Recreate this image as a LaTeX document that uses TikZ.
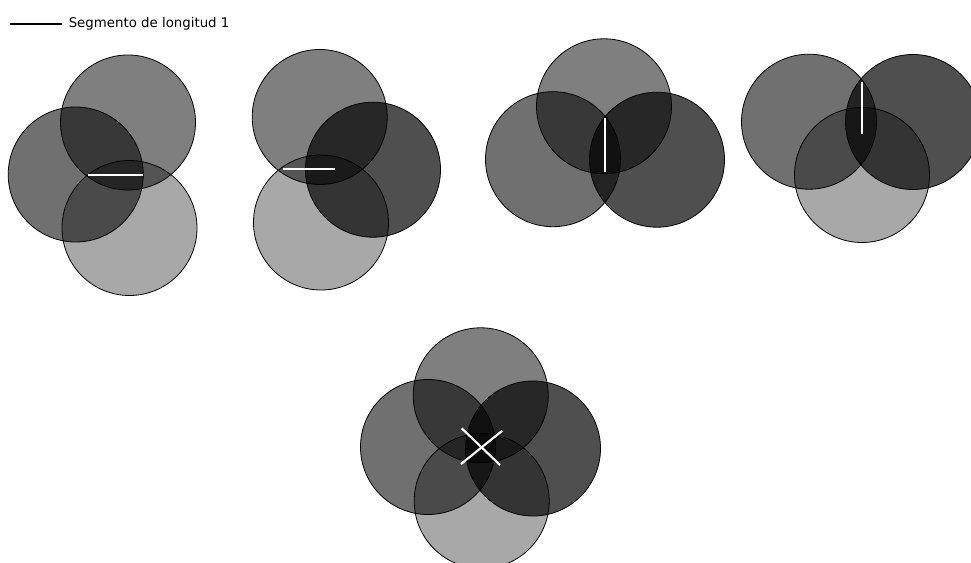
\documentclass[tikz,border=0pt]{standalone}
\usepackage{fontspec}
\setmainfont{DejaVu Sans}
\begin{document}
\begin{tikzpicture}[x=0.75pt,y=-0.75pt,
  circ/.style={circle,draw=black,line width=0.6pt,fill=black,inner sep=0pt,minimum size=101.25pt},
  ctop/.style={circ,fill opacity=0.5},
  cleft/.style={circ,fill opacity=0.56},
  cright/.style={circ,fill opacity=0.69},
  cbot/.style={circ,fill opacity=0.34},
  seg/.style={draw=white,line width=1.6pt},
  legline/.style={draw=black,line width=1.8pt},
  legtext/.style={anchor=base west,inner sep=0pt,font=\fontsize{10pt}{12pt}\selectfont}]
\useasboundingbox (0,0) rectangle (971,563);
\clip (0,0) rectangle (971,563);
% legend
\coordinate (la) at (10,24);
\coordinate (lb) at (62,24);
\draw[legline] (la) -- (lb);
\node[legtext] (leg) at (68.5,28) {Segmento de longitud 1};
% panel 1
\node[ctop] (p1t) at (128,122.5) {};
\node[cleft] (p1l) at (75.7,174.5) {};
\node[cbot] (p1b) at (129.5,228) {};
\coordinate (s1a) at (88,175.3);
\coordinate (s1b) at (142.7,175.3);
\draw[seg] (s1a) -- (s1b);
% panel 2
\node[ctop] (p2t) at (319.7,117) {};
\node[cright] (p2r) at (373,169.7) {};
\node[cbot] (p2b) at (321,222.5) {};
\coordinate (s2a) at (282.7,169.3);
\coordinate (s2b) at (335,169.3);
\draw[seg] (s2a) -- (s2b);
% panel 3
\node[ctop] (p3t) at (604,106.3) {};
\node[cleft] (p3l) at (553,159.2) {};
\node[cright] (p3r) at (657,159.7) {};
\coordinate (s3a) at (605,118.3);
\coordinate (s3b) at (605,171.7);
\draw[seg] (s3a) -- (s3b);
% panel 4
\node[cleft] (p4l) at (809,121.7) {};
\node[cright] (p4r) at (913,122) {};
\node[cbot] (p4b) at (862,175) {};
\coordinate (s4a) at (862.3,81.7);
\coordinate (s4b) at (862.3,134.3);
\draw[seg] (s4a) -- (s4b);
% panel 5
\node[ctop] (p5t) at (480.7,395.3) {};
\node[cleft] (p5l) at (428,447) {};
\node[cright] (p5r) at (533,448.5) {};
\node[cbot] (p5b) at (481.7,501) {};
\coordinate (s5a) at (461,464);
\coordinate (s5b) at (502.3,430.7);
\coordinate (s5c) at (461.7,428.3);
\coordinate (s5d) at (500,465);
\draw[seg] (s5a) -- (s5b);
\draw[seg] (s5c) -- (s5d);
\end{tikzpicture}
\end{document}
